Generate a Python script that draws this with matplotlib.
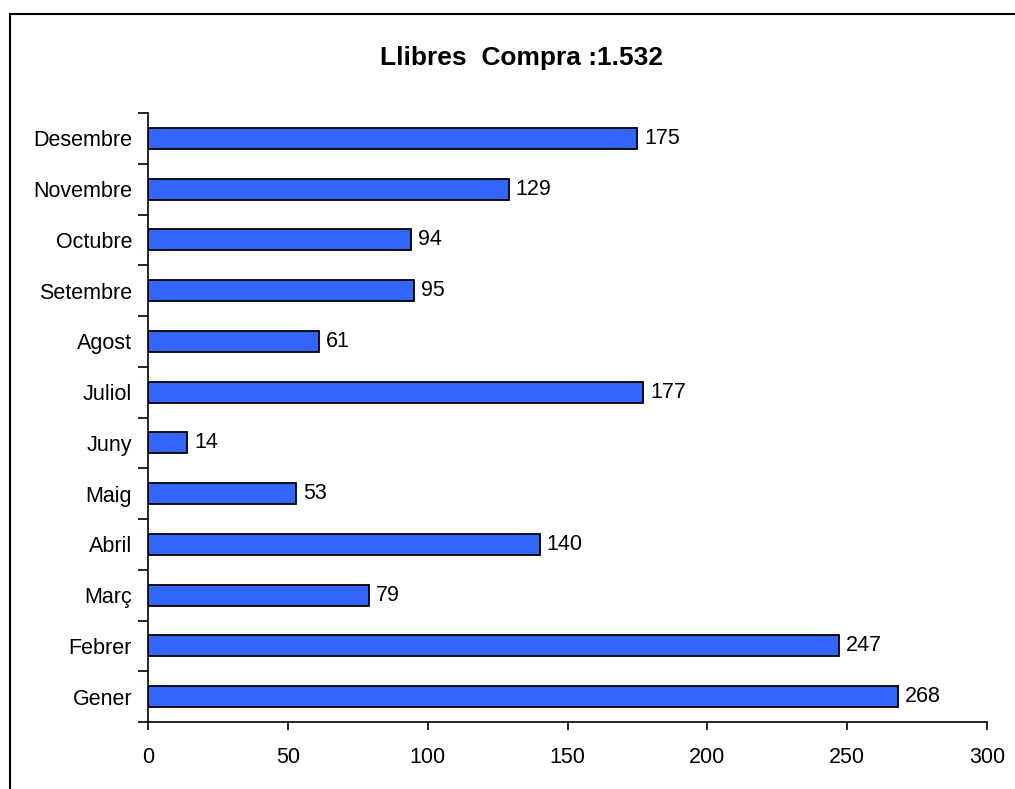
import matplotlib.pyplot as plt
from matplotlib.patches import Rectangle
import numpy as np

months = ['Gener', 'Febrer', 'Març', 'Abril', 'Maig', 'Juny', 'Juliol',
          'Agost', 'Setembre', 'Octubre', 'Novembre', 'Desembre']
values = [268, 247, 79, 140, 53, 14, 177, 61, 95, 94, 129, 175]
xticks = [0, 50, 100, 150, 200, 250, 300]

plt.rcParams['font.family'] = ['Liberation Sans', 'DejaVu Sans']

fig = plt.figure(figsize=(10.15, 7.89), dpi=100)
ax = fig.add_axes([148 / 1015, 1 - 722 / 789, (987 - 148) / 1015, (722 - 113) / 789])

# outer frame of the chart area
fig.patches.append(Rectangle((10 / 1015, -0.1), 1.2, 1 - 14 / 789 + 0.1,
                             transform=fig.transFigure, fill=False,
                             edgecolor='black', linewidth=1.5, zorder=0))

pos = np.arange(len(months))
ax.barh(pos, values, height=0.41, color='#3366ff', edgecolor='black', linewidth=1.3)
for p, v in zip(pos, values):
    ax.text(v + 2.5, p, str(v), va='center', ha='left', fontsize=15.5)

ax.set_xlim(0, 300)
ax.set_ylim(-0.5, len(months) - 0.5)
ax.set_xticks(xticks)
ax.set_xticklabels([str(t) for t in xticks], fontsize=15.5)
ax.set_yticks(pos)
ax.set_yticklabels(months, fontsize=15.5)
ax.tick_params(axis='y', length=0, pad=11.5)
ax.set_yticks(np.arange(len(months) + 1) - 0.5, minor=True)
ax.tick_params(axis='y', which='minor', length=7, width=1.2)
ax.tick_params(axis='x', length=6, width=1.2, pad=12)

for s in ['top', 'right']:
    ax.spines[s].set_visible(False)
for s in ['left', 'bottom']:
    ax.spines[s].set_linewidth(1.2)

fig.text(521 / 1015, 1 - 58 / 789, 'Llibres  Compra :1.532', ha='center', va='center',
         fontsize=19, fontweight='bold')

fig.savefig('out.png', dpi=100)
